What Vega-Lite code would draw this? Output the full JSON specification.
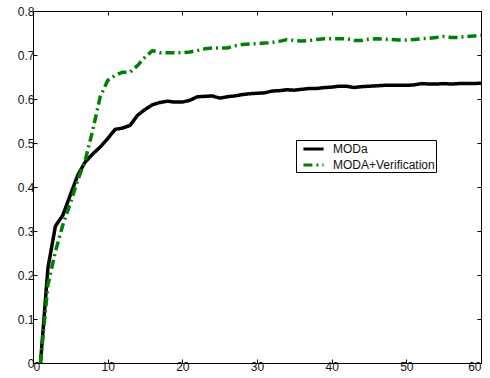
{
  "$schema": "https://vega.github.io/schema/vega-lite/v6.json",
  "autosize": "none",
  "width": 448,
  "height": 352,
  "padding": {"left": 33, "top": 11, "right": 9, "bottom": 15},
  "background": "white",
  "config": {
    "view": {"stroke": null},
    "font": "Liberation Sans",
    "axis": {
      "grid": false,
      "domainColor": "black",
      "domainWidth": 1,
      "tickColor": "black",
      "tickSize": -4,
      "labelFont": "Liberation Sans",
      "labelFontSize": 12,
      "labelColor": "#111",
      "title": null
    }
  },
  "datasets": {
    "wide": [
      {"x":1,"a":0,"b":0},{"x":2,"a":0.216,"b":0.178},{"x":3,"a":0.311,"b":0.253},{"x":4,"a":0.336,"b":0.314},{"x":5,"a":0.382,"b":0.363},
      {"x":6,"a":0.427,"b":0.416},{"x":7,"a":0.457,"b":0.461},{"x":8,"a":0.475,"b":0.529},{"x":9,"a":0.491,"b":0.605},{"x":10,"a":0.510,"b":0.642},
      {"x":11,"a":0.531,"b":0.654},{"x":12,"a":0.534,"b":0.661},{"x":13,"a":0.540,"b":0.661},{"x":14,"a":0.563,"b":0.676},{"x":15,"a":0.576,"b":0.695},
      {"x":16,"a":0.587,"b":0.710},{"x":17,"a":0.592,"b":0.705},{"x":18,"a":0.595,"b":0.705},{"x":19,"a":0.593,"b":0.705},{"x":20,"a":0.593,"b":0.705},
      {"x":21,"a":0.597,"b":0.707},{"x":22,"a":0.605,"b":0.710},{"x":23,"a":0.606,"b":0.714},{"x":24,"a":0.607,"b":0.716},{"x":25,"a":0.602,"b":0.716},
      {"x":26,"a":0.605,"b":0.716},{"x":27,"a":0.607,"b":0.721},{"x":28,"a":0.610,"b":0.724},{"x":29,"a":0.612,"b":0.725},{"x":30,"a":0.613,"b":0.726},
      {"x":31,"a":0.614,"b":0.727},{"x":32,"a":0.618,"b":0.729},{"x":33,"a":0.619,"b":0.731},{"x":34,"a":0.621,"b":0.735},{"x":35,"a":0.620,"b":0.733},
      {"x":36,"a":0.622,"b":0.732},{"x":37,"a":0.624,"b":0.733},{"x":38,"a":0.624,"b":0.735},{"x":39,"a":0.626,"b":0.737},{"x":40,"a":0.627,"b":0.737},
      {"x":41,"a":0.629,"b":0.737},{"x":42,"a":0.629,"b":0.737},{"x":43,"a":0.626,"b":0.733},{"x":44,"a":0.628,"b":0.733},{"x":45,"a":0.629,"b":0.736},
      {"x":46,"a":0.630,"b":0.737},{"x":47,"a":0.631,"b":0.736},{"x":48,"a":0.631,"b":0.735},{"x":49,"a":0.631,"b":0.734},{"x":50,"a":0.631,"b":0.734},
      {"x":51,"a":0.632,"b":0.735},{"x":52,"a":0.635,"b":0.737},{"x":53,"a":0.634,"b":0.738},{"x":54,"a":0.634,"b":0.740},{"x":55,"a":0.635,"b":0.742},
      {"x":56,"a":0.634,"b":0.740},{"x":57,"a":0.635,"b":0.740},{"x":58,"a":0.635,"b":0.742},{"x":59,"a":0.635,"b":0.743},{"x":60,"a":0.636,"b":0.745}
    ]
  },
  "data": {"name": "wide"},
  "resolve": {"axis": {"x": "independent", "y": "independent"}},
  "layer": [
    {
      "transform": [
        {"fold": ["a", "b"], "as": ["key", "y"]},
        {"lookup": "key", "from": {"data": {"values": [{"key": "a", "s": "MODa"}, {"key": "b", "s": "MODA+Verification"}]}, "key": "key", "fields": ["s"]}}
      ],
      "mark": {"type": "line", "strokeWidth": 3.5, "strokeJoin": "round"},
      "encoding": {
        "x": {"field": "x", "type": "quantitative", "scale": {"domain": [0, 60], "nice": false, "zero": false},
              "axis": {"orient": "bottom", "values": [0,10,20,30,40,50,60], "labelPadding": 2}},
        "y": {"field": "y", "type": "quantitative", "scale": {"domain": [0, 0.8], "nice": false},
              "axis": {"orient": "left", "values": [0,0.1,0.2,0.3,0.4,0.5,0.6,0.7,0.8], "labelPadding": 3, "format": "~g"}},
        "color": {"field": "s", "type": "nominal",
                  "scale": {"domain": ["MODa", "MODA+Verification"], "range": ["#000000", "#008000"]},
                  "legend": {"title": null, "orient": "none", "legendX": 263, "legendY": 129,
                             "strokeColor": "black", "fillColor": "white", "padding": 1,
                             "symbolType": "M-1.55,0H1.55", "symbolSize": 169, "symbolStrokeWidth": 3,
                             "labelFontSize": 12, "labelFont": "Liberation Sans", "labelColor": "#111",
                             "rowPadding": 2, "symbolOffset": 8.5, "labelOffset": 11.5, "cornerRadius": 0}},
        "strokeDash": {"field": "s", "type": "nominal",
                       "scale": {"domain": ["MODa", "MODA+Verification"], "range": [[1, 0], [9, 4, 2, 4]]},
                       "legend": null}
      }
    },
    {
      "mark": {"type": "line", "opacity": 0},
      "encoding": {
        "x": {"field": "x", "type": "quantitative", "axis": {"orient": "top", "labels": false, "values": [0,10,20,30,40,50,60]}},
        "y": {"field": "a", "type": "quantitative", "axis": {"orient": "right", "labels": false, "values": [0,0.1,0.2,0.3,0.4,0.5,0.6,0.7,0.8]}}
      }
    }
  ]
}
